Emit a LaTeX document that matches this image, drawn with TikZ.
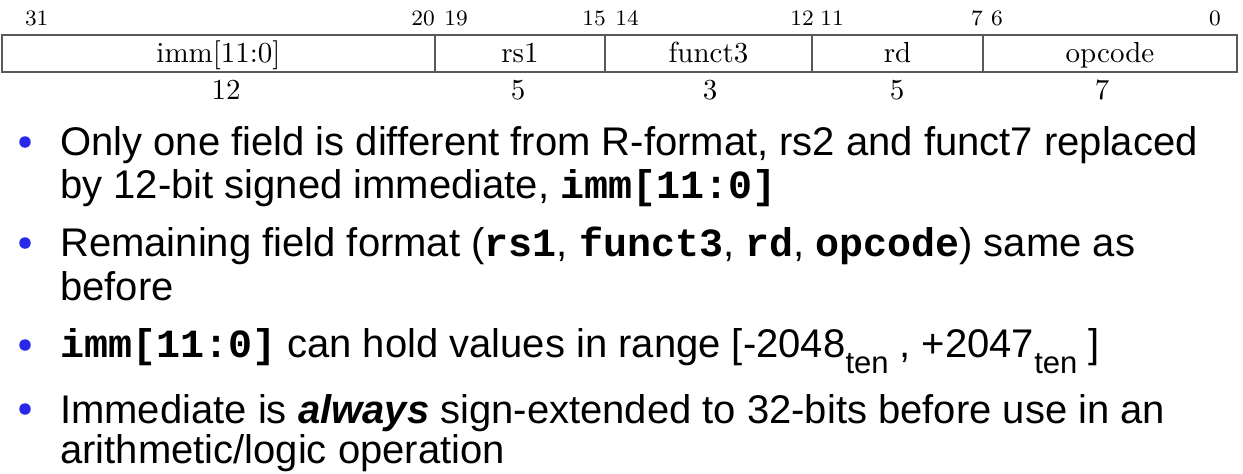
\documentclass[tikz,border=0pt]{standalone}
\usepackage{fontspec}
\newfontfamily\arialf{Liberation Sans}
\newfontfamily\courf{Liberation Mono}
\newfontfamily\lmten{lmroman10-regular.otf}
\newfontfamily\lmeight{lmroman8-regular.otf}
\definecolor{bulblue}{RGB}{40,40,235}
\newcommand{\cb}[1]{{\courf\bfseries #1}}
\newcommand{\tensub}{\raisebox{-16pt}{\fontsize{31}{31}\selectfont ten}}
\begin{document}
\begin{tikzpicture}[x=1pt,y=-1pt,
  field/.style={draw=black!65, line width=1.1pt, minimum height=37pt, inner sep=0pt,
    text height=20pt, text depth=3pt, font=\lmten\fontsize{29}{32}\selectfont},
  bitnum/.style={anchor=base, inner sep=0pt, font=\lmeight\fontsize{22}{24}\selectfont},
  sizenum/.style={anchor=base, inner sep=0pt, font=\lmten\fontsize{29}{32}\selectfont},
  txtline/.style={anchor=base west, inner sep=0pt, font=\arialf\fontsize{40}{48}\selectfont},
  bul/.style={circle, fill=bulblue, minimum size=11.5pt, inner sep=0pt}]
\useasboundingbox (0,0) rectangle (1243,474);
% instruction format box
\node[field, minimum width=433pt] (fimm) at (218.5,53.5) {imm[11:0]};
\node[field, minimum width=170pt] (frs1) at (520,53.5) {rs1};
\node[field, minimum width=207pt] (ffun) at (708.5,53.5) {funct3};
\node[field, minimum width=171pt] (frd) at (897.5,53.5) {rd};
\node[field, minimum width=254pt] (fop) at (1110,53.5) {opcode};
% bit numbers
\node[bitnum] (n31) at (36.7,25) {31};
\node[bitnum] (n20) at (423,25) {20};
\node[bitnum] (n19) at (456,25) {19};
\node[bitnum] (n15) at (594,25) {15};
\node[bitnum] (n14) at (627,25) {14};
\node[bitnum] (n12) at (802,25) {12};
\node[bitnum] (n11) at (832,25) {11};
\node[bitnum] (n7) at (977,25) {7};
\node[bitnum] (n6) at (997,25) {6};
\node[bitnum] (n0) at (1215,25) {0};
% field widths
\node[sizenum] (w12) at (226,99) {12};
\node[sizenum] (w5a) at (518,99) {5};
\node[sizenum] (w3) at (710,99) {3};
\node[sizenum] (w5b) at (897,99) {5};
\node[sizenum] (w7) at (1102,99) {7};
% bullets
\node[bul] (b1) at (25,142) {};
\node[bul] (b2) at (25,243) {};
\node[bul] (b3) at (25,345) {};
\node[bul] (b4) at (25,409) {};
% text lines
\node[txtline] (l1) at (60,155) {Only one field is different from R-format, rs2 and funct7 replaced};
\node[txtline] (l2) at (60,198) {by 12-bit signed immediate, \cb{imm[11:0]}};
\node[txtline] (l3) at (60,256) {Remaining field format (\cb{rs1}, \cb{funct3}, \cb{rd}, \cb{opcode}) same as};
\node[txtline] (l4) at (60,300) {before};
\node[txtline] (l5) at (60,357) {\cb{imm[11:0]} can hold values in range [-2048\tensub{} , +2047\tensub{} ]};
\node[txtline] (l6) at (60,423) {Immediate is {\bfseries\itshape always} sign-extended to 32-bits before use in an};
\node[txtline] (l7) at (60,463) {arithmetic/logic operation};
\end{tikzpicture}
\end{document}
